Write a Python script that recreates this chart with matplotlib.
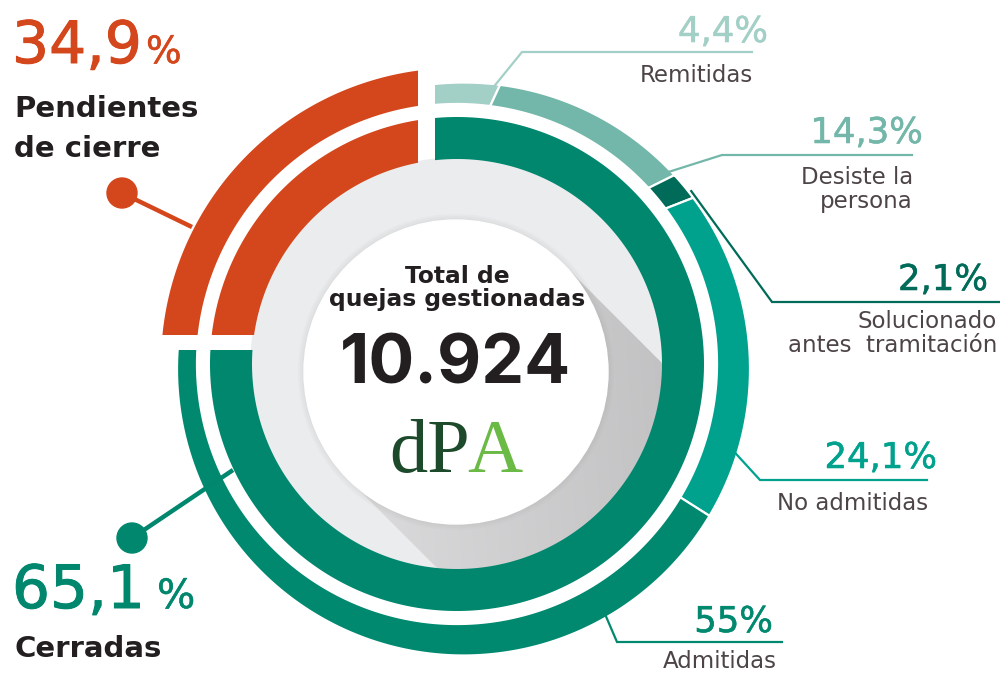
import numpy as np
import matplotlib
matplotlib.use("Agg")
import matplotlib.pyplot as plt
import matplotlib.patheffects as pe
from matplotlib.patches import Polygon, Circle

# ---- data ----
pendientes_pct = 34.9
cerradas_pct = 65.1
total_quejas = 10924
sub_names = ["Remitidas", "Desiste la\npersona", "Solucionado\nantes  tramitación",
             "No admitidas", "Admitidas"]
sub_pct = [4.4, 14.3, 2.1, 24.1, 55.0]

# ---- styles ----
ORANGE = "#d4461b"
TEAL = "#00876e"
sub_colors = ["#a3d0c6", "#72b7a9", "#006b58", "#00a28e", "#00896f"]
DARK = "#231f20"
GREY_TXT = "#4d4446"
NUM_FONT = "Inter"
TXT_FONT = "DejaVu Sans"


def pct(v):
    return ("%g" % v).replace(".", ",")


def thick(col, w):
    # a little heavier than the regular face, like a medium weight
    return [pe.withStroke(linewidth=w, foreground=col)]


def band(t1, t2, c_out, r_out, c_in, r_in, n=300):
    t = np.radians(np.linspace(t1, t2, n))
    xo = c_out[0] + r_out * np.cos(t)
    yo = c_out[1] - r_out * np.sin(t)
    xi = c_in[0] + r_in * np.cos(t[::-1])
    yi = c_in[1] - r_in * np.sin(t[::-1])
    return np.column_stack([np.concatenate([xo, xi]), np.concatenate([yo, yi])])


fig = plt.figure(figsize=(10, 6.75), dpi=100)
ax = fig.add_axes([0, 0, 1, 1])
ax.set_xlim(0, 1000)
ax.set_ylim(675, 0)
ax.axis("off")

C = (457, 364)            # ring centre (pixels)
C_OUT = (463.5, 369)      # outer edge of the outer ring is a bit off centre
CUT_X, CUT_Y = 435, 350   # where the closed part starts
GAP = 17

# centre disc + long shadow
ax.add_patch(Circle(C, 206, color="#ebecee", zorder=1))
wc = (456, 372)
wr = 152
d = np.array([1, 1]) / np.sqrt(2)
p = np.array([1, -1]) / np.sqrt(2)
L = 420
shadow_pts = [wc + wr * p, wc + wr * p + L * d, wc - wr * p + L * d, wc - wr * p]
shadow = Polygon(shadow_pts, closed=True, facecolor="none", edgecolor="none")
ax.add_patch(shadow)
gx, gy = np.meshgrid(np.linspace(250, 700, 450), np.linspace(150, 600, 450))
s = ((gx - wc[0]) * p[0] + (gy - wc[1]) * p[1]) / wr
tt = ((gx - wc[0]) * d[0] + (gy - wc[1]) * d[1]) / 300
val = 0.86 - 0.07 * (s + 1) / 2 - 0.06 * np.clip(tt, 0, 1)
img = np.dstack([val, val, val + 0.005, np.ones_like(val)])
img[..., 3] = ((gx - C[0]) ** 2 + (gy - C[1]) ** 2 < 206 ** 2).astype(float)
im = ax.imshow(img, extent=(250, 700, 600, 150), zorder=2, interpolation="bilinear")
im.set_clip_path(shadow)
for k, a in enumerate([0.05, 0.05, 0.06]):
    ax.add_patch(Circle(wc, wr + 6 - 2 * k, color="#9a9a9a", alpha=a, zorder=3, lw=0))
ax.add_patch(Circle(wc, wr, color="white", zorder=3))

# clip regions
teal_clip = Polygon([(CUT_X, -10), (1010, -10), (1010, 685), (-10, 685), (-10, CUT_Y), (CUT_X, CUT_Y)],
                    closed=True, transform=ax.transData)
orange_clip = Polygon([(-10, -10), (CUT_X - GAP, -10), (CUT_X - GAP, CUT_Y - 15), (-10, CUT_Y - 15)],
                      closed=True, transform=ax.transData)

# orange (pendientes) part
for ro, ri in [(296, 261), (247, 205)]:
    pg = Polygon(band(80, 190, C, ro, C, ri), closed=True, color=ORANGE, zorder=4, lw=0)
    ax.add_patch(pg)
    pg.set_clip_path(orange_clip)

# inner ring: cerradas
pg = Polygon(band(100, -190, C, 247, C, 205), closed=True, color=TEAL, zorder=4, lw=0)
ax.add_patch(pg)
pg.set_clip_path(teal_clip)

# outer ring: breakdown of cerradas
T0, T1 = 95.0, -185.0
edges = T0 + (T1 - T0) * np.concatenate([[0], np.cumsum(sub_pct)]) / sum(sub_pct)
for i, col in enumerate(sub_colors):
    a1 = edges[i] if i > 0 else 100
    a2 = edges[i + 1] if i < len(sub_colors) - 1 else -190
    pg = Polygon(band(a1, a2, C_OUT, 286.5, C, 260), closed=True, facecolor=col,
                 edgecolor="white", lw=1.6, zorder=4)
    ax.add_patch(pg)
    pg.set_clip_path(teal_clip)

# ---- centre texts ----
ax.text(457, 283, "Total de", ha="center", va="baseline", fontsize=16.8,
        fontweight="bold", color=DARK, family=TXT_FONT, zorder=6)
ax.text(457, 306, "quejas gestionadas", ha="center", va="baseline", fontsize=16.8,
        fontweight="bold", color=DARK, family=TXT_FONT, zorder=6)
ax.text(455, 383, f"{total_quejas:,}".replace(",", "."), ha="center", va="baseline",
        fontsize=49, fontweight="bold", color=DARK, family=NUM_FONT, zorder=6)
ax.text(389, 472, "dP", ha="left", va="baseline", fontsize=55, color="#1e4a2c",
        family="Liberation Serif", zorder=6)
ax.text(467, 472, "A", ha="left", va="baseline", fontsize=55, color="#6cba46",
        family="Liberation Serif", zorder=6)

# ---- left callouts ----
ax.text(12, 63, pct(pendientes_pct), ha="left", va="baseline", fontsize=42,
        color=ORANGE, family=TXT_FONT, path_effects=thick(ORANGE, 0.7))
ax.text(146, 63, "%", ha="left", va="baseline", fontsize=27,
        color=ORANGE, family=TXT_FONT, path_effects=thick(ORANGE, 0.4))
ax.text(14, 117, "Pendientes", ha="left", va="baseline", fontsize=21,
        fontweight="bold", color=DARK, family=TXT_FONT)
ax.text(14, 157, "de cierre", ha="left", va="baseline", fontsize=21,
        fontweight="bold", color=DARK, family=TXT_FONT)
ax.plot([122, 192], [193, 227], color=ORANGE, lw=3.2, zorder=5, solid_capstyle="butt")
ax.add_patch(Circle((122, 193), 15, color=ORANGE, zorder=5))

ax.text(12, 608, pct(cerradas_pct), ha="left", va="baseline", fontsize=43,
        color=TEAL, family=TXT_FONT, path_effects=thick(TEAL, 0.7))
ax.text(157, 608, "%", ha="left", va="baseline", fontsize=29,
        color=TEAL, family=TXT_FONT, path_effects=thick(TEAL, 0.4))
ax.text(14, 657, "Cerradas", ha="left", va="baseline", fontsize=21,
        fontweight="bold", color=DARK, family=TXT_FONT)
ax.plot([132, 233], [538, 470], color=TEAL, lw=3.2, zorder=5, solid_capstyle="butt")
ax.add_patch(Circle((132, 538), 15, color=TEAL, zorder=5))

# ---- right callouts ----
# anchor angle on ring, elbow (x, y), line end x, pct text (right x, baseline), name (right x, first baseline)
anchor_ang = [84, 44, 38, -17, -60]
anchor_r = [283, 283, 289, 283, 283]
elbow = [(522, 52), (722, 155), (772, 302), (760, 480), (617, 642)]
line_end = [752, 912, 1000, 927, 782]
pct_pos = [(768, 42), (923, 143), (988, 290), (937, 468), (773, 632)]
name_pos = [(753, 82), (913, 184), (997, 328), (928, 510), (777, 668)]

for i, col in enumerate(sub_colors):
    a = np.radians(anchor_ang[i])
    ax_ = C_OUT[0] + anchor_r[i] * np.cos(a)
    ay_ = C_OUT[1] - anchor_r[i] * np.sin(a)
    ex, ey = elbow[i]
    ax.plot([ax_, ex, line_end[i]], [ay_, ey, ey], color=col, lw=1.6, zorder=5,
            solid_joinstyle="miter")
    ax.text(pct_pos[i][0], pct_pos[i][1], pct(sub_pct[i]) + "%", ha="right", va="baseline",
            fontsize=25.5, color=col, family=TXT_FONT, path_effects=thick(col, 0.4))
    for j, line in enumerate(sub_names[i].split("\n")):
        ax.text(name_pos[i][0], name_pos[i][1] + 24 * j, line, ha="right", va="baseline",
                fontsize=16.5, color=GREY_TXT, family=TXT_FONT)

fig.savefig("out.png", dpi=100, facecolor="white")
